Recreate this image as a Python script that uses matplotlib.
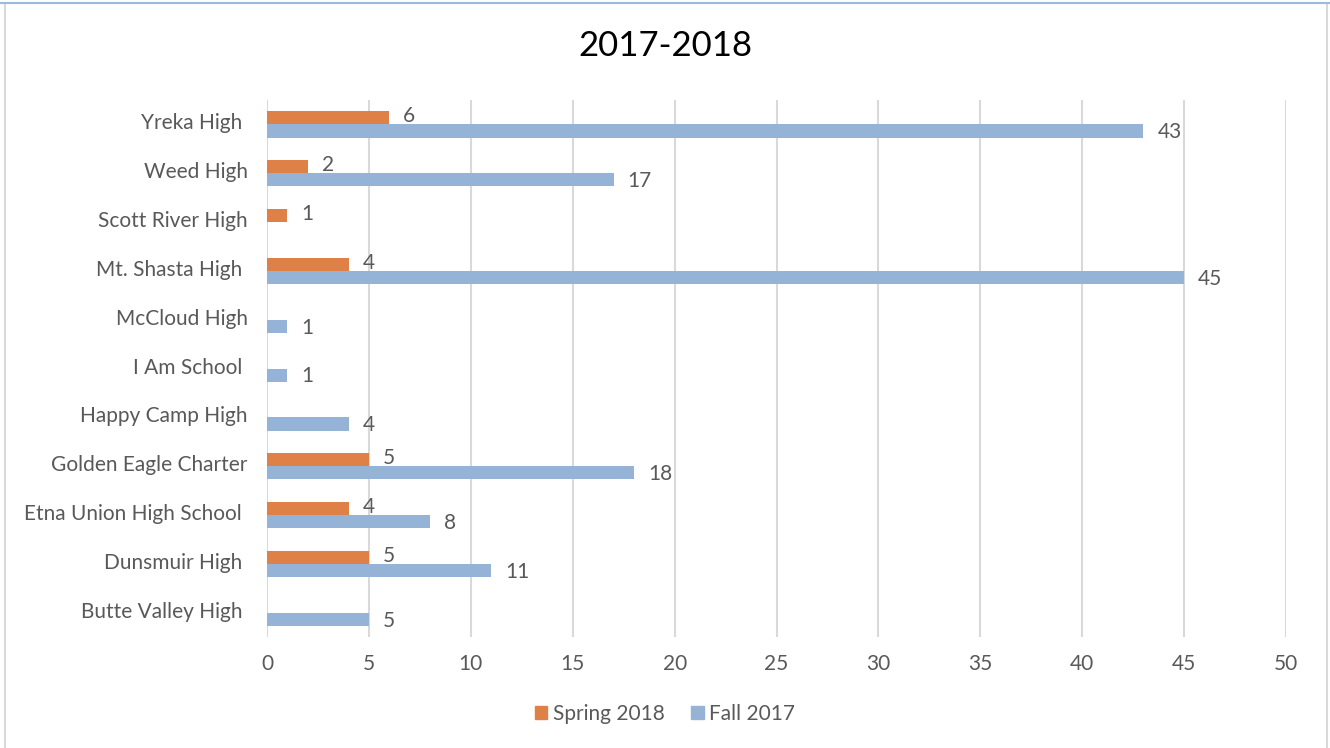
import matplotlib.pyplot as plt
import matplotlib.transforms as mtransforms
import numpy as np
from matplotlib.lines import Line2D
from matplotlib.patches import Patch

# data, listed bottom-to-top as on the chart
schools = [
    "Butte Valley High ",
    "Dunsmuir High ",
    "Etna Union High School ",
    "Golden Eagle Charter",
    "Happy Camp High",
    "I Am School ",
    "McCloud High",
    "Mt. Shasta High ",
    "Scott River High",
    "Weed High",
    "Yreka High ",
]
spring_2018 = [None, 5, 4, 5, None, None, None, 4, 1, 2, 6]
fall_2017 = [5, 11, 8, 18, 4, 1, 1, 45, None, 17, 43]
x_ticks = [0, 5, 10, 15, 20, 25, 30, 35, 40, 45, 50]

ORANGE = "#DF8047"
BLUE = "#95B3D6"
TEXT = "#595959"

plt.rcParams["font.family"] = ["Lato", "DejaVu Sans"]

fig = plt.figure(figsize=(13.3, 7.48), dpi=100)
ax = fig.add_axes([0.2008, 0.1484, 0.7662, 0.7179])

y = np.arange(len(schools))
h = 0.27
spring_vals = np.array([v if v is not None else 0 for v in spring_2018], dtype=float)
fall_vals = np.array([v if v is not None else 0 for v in fall_2017], dtype=float)

ax.barh(y + h / 2, spring_vals, height=h, color=ORANGE, zorder=3)
ax.barh(y - h / 2, fall_vals, height=h, color=BLUE, zorder=3)

for yi, v in zip(y, spring_2018):
    if v is not None:
        ax.annotate(str(v), (v, yi + h / 2), xytext=(10, 1), textcoords="offset points",
                    va="center", ha="left", fontsize=15, color=TEXT)
for yi, v in zip(y, fall_2017):
    if v is not None:
        ax.annotate(str(v), (v, yi - h / 2), xytext=(10, -1), textcoords="offset points",
                    va="center", ha="left", fontsize=15, color=TEXT)

ax.set_xlim(0, 50)
ax.set_ylim(-0.5, len(schools) - 0.5)
ax.set_xticks(x_ticks)
ax.set_yticks(y)
ax.set_yticklabels(schools)
ax.tick_params(axis="both", length=0, labelsize=15, colors=TEXT)
ax.tick_params(axis="y", pad=14)
ax.tick_params(axis="x", pad=12)
ax.grid(axis="x", color="#D9D9D9", linewidth=1.5, zorder=0)
for s in ax.spines.values():
    s.set_visible(False)

# nudge category labels up a little
up = mtransforms.ScaledTranslation(0, 3 / 100, fig.dpi_scale_trans)
for lbl in ax.get_yticklabels():
    lbl.set_transform(lbl.get_transform() + up)

fig.text(0.5, 0.938, "2017-2018", ha="center", va="center", fontsize=25, color="black")

handles = [Patch(color=ORANGE, label="Spring 2018"), Patch(color=BLUE, label="Fall 2017")]
fig.legend(handles=handles, loc="center", bbox_to_anchor=(0.5, 0.046), ncol=2, frameon=False,
           fontsize=15, labelcolor=TEXT, handlelength=0.6, handleheight=0.6,
           handletextpad=0.25, columnspacing=1.3)

# chart frame
fig.add_artist(Line2D([5 / 1330, 5 / 1330], [0, 1 - 3 / 748], color="#D9D9D9", lw=1.5))
fig.add_artist(Line2D([1327 / 1330, 1327 / 1330], [0, 1 - 3 / 748], color="#D9D9D9", lw=1.5))
fig.add_artist(Line2D([0, 1], [1 - 3 / 748, 1 - 3 / 748], color="#9DBADC", lw=1.5))

fig.savefig("out.png", dpi=100)
